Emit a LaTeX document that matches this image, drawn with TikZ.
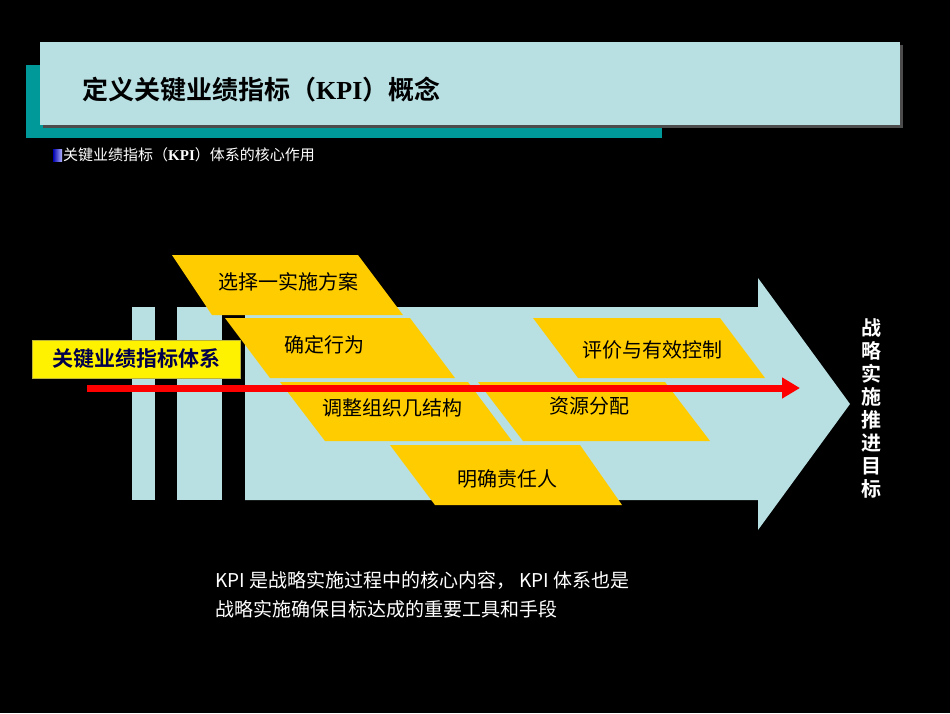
\documentclass[tikz,border=0pt]{standalone}
\usepackage{fontspec}
\usetikzlibrary{arrows.meta}
\setmainfont{Liberation Sans}
\newfontfamily\cjk{Noto Sans CJK SC}
\newfontfamily\cjkb{Noto Sans CJK SC Bold}
\newfontfamily\serifb{Liberation Serif}
\definecolor{lb}{HTML}{B8E0E3}
\definecolor{teal2}{HTML}{009999}
\definecolor{gold}{HTML}{FFCC00}
\begin{document}
\begin{tikzpicture}[x=1pt,y=-1pt,
  para/.style={fill=gold,draw=none},
  lab/.style={font=\cjk\fontsize{20}{22}\selectfont,text=black}]
\fill[black] (0,0) rectangle (950,713);
\useasboundingbox (0,0) rectangle (950,713);
% header
\fill[teal2] (26,65) rectangle (662,138);
\fill[gray!60!black] (43,45) rectangle (903,128);
\fill[lb] (40,42) rectangle (900,125);
\node[anchor=west,inner sep=0,font=\cjkb\fontsize{26}{28}\selectfont] (title) at (82,90) {定义关键业绩指标（{\serifb\bfseries KPI}）概念};
\shade[left color=blue!70!black,right color=blue!30!white] (53,149) rectangle (62,161);
\node[anchor=west,inner sep=0,text=white,font=\cjk\fontsize{15}{17}\selectfont] (sub) at (63,155) {关键业绩指标（{\serifb\bfseries KPI}）体系的核心作用};
% arrow body
\fill[lb] (132,307) rectangle (155,500);
\fill[lb] (177,307) rectangle (222,500);
\fill[lb] (245,307) -- (758,307) -- (758,278) -- (850,404) -- (758,530) -- (758,500) -- (245,500) -- cycle;
% parallelograms
\fill[para] (172,255) -- (358,255) -- (403,315) -- (212,315) -- cycle;
\node[lab] (p1) at (288,282) {选择一实施方案};
\fill[para] (225,318) -- (410,318) -- (455,378) -- (270,378) -- cycle;
\node[lab] (p2) at (324,345) {确定行为};
\fill[para] (533,318) -- (720,318) -- (765,378) -- (578,378) -- cycle;
\node[lab] (p6) at (652,350) {评价与有效控制};
\fill[para] (478,382) -- (665,382) -- (710,441) -- (523,441) -- cycle;
\fill[para] (280,382) -- (468,382) -- (512,441) -- (325,441) -- cycle;
\node[lab] (p3) at (392,408) {调整组织几结构};
\node[lab] (p5) at (589,406) {资源分配};
\fill[para] (390,445) -- (580,445) -- (622,505) -- (435,505) -- cycle;
\node[lab] (p4) at (507,479) {明确责任人};
% yellow box
\node[fill=yellow,draw=yellow!70!black,minimum width=208,minimum height=38,inner sep=0,
  font=\cjkb\fontsize{21}{23}\selectfont,text=blue!30!black] (kpi) at (136,359) {关键业绩指标体系};
% red arrow
\coordinate (rs) at (87,388);
\coordinate (re) at (800,388);
\draw[red,line width=7,-{Triangle[length=18,width=20]}] (rs) -- (re);
% right text
\node[text=white,font=\cjkb\fontsize{20}{23}\selectfont,align=center,inner sep=0] (goal) at (871,408)
 {战\\略\\实\\施\\推\\进\\目\\标};
% bottom text
\node[anchor=north west,text=white,align=left,inner sep=0,font=\cjk\fontsize{19}{29}\selectfont] (note) at (215,571)
 {KPI 是战略实施过程中的核心内容， KPI 体系也是\\战略实施确保目标达成的重要工具和手段};
\end{tikzpicture}
\end{document}
